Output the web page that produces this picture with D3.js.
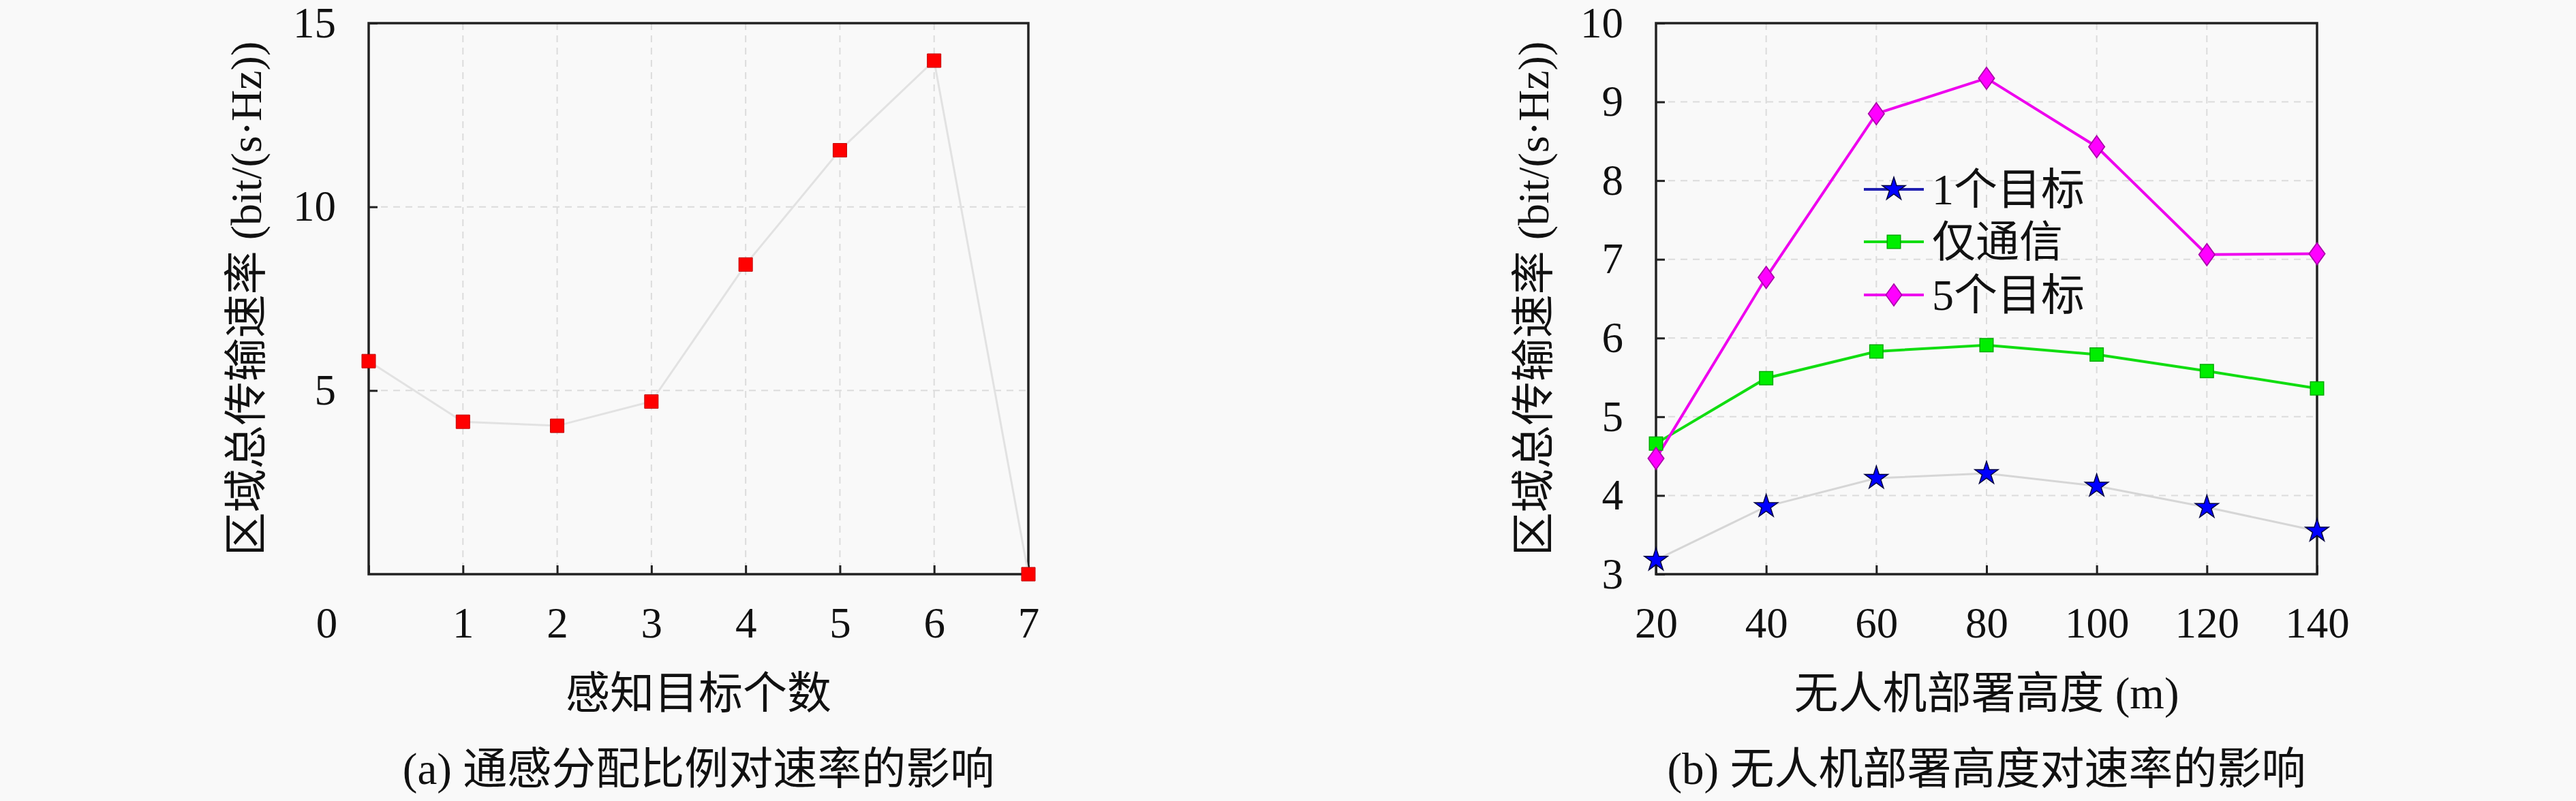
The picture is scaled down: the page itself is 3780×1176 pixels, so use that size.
<!DOCTYPE html>
<html>
<head>
<meta charset="utf-8">
<script src="https://cdn.jsdelivr.net/npm/d3@7"></script>
<style>
  body { margin: 0; background: #f9f9f9; }
  text { font-family: 'Liberation Serif', 'Noto Sans CJK SC', serif; fill: #111; }
</style>
</head>
<body>
<div id="container"></div>
<script>
// data (a)
const targetCounts = [0, 1, 2, 3, 4, 5, 6, 7];
const rateByTargets = [5.8, 4.15, 4.04, 4.7, 8.43, 11.54, 13.98, 0];
const ticksA_x = [0, 1, 2, 3, 4, 5, 6, 7];
const ticksA_y = [5, 10, 15];

// data (b)
const heights = [20, 40, 60, 80, 100, 120, 140];
const oneTarget = [3.18, 3.86, 4.22, 4.28, 4.12, 3.85, 3.55];
const commOnly = [4.66, 5.49, 5.83, 5.91, 5.79, 5.58, 5.36];
const fiveTargets = [4.47, 6.77, 8.85, 9.30, 8.43, 7.06, 7.07];
const seriesNames = ["1个目标", "仅通信", "5个目标"];
const ticksB_y = [3, 4, 5, 6, 7, 8, 9, 10];

const yLabel = "区域总传输速率 (bit/(s·Hz))";

const width = 3780, height = 1176;
const svg = d3.select("#container").append("svg")
  .attr("width", width).attr("height", height);

svg.append("rect").attr("width", width).attr("height", height).attr("fill", "#f9f9f9");

const plotTop = 34, plotBottom = 843;

function panel(xScale, yScale, xticks, yticks, xTitle, caption) {
  const [x0, x1] = xScale.range();
  const g = svg.append("g");

  // grid
  g.selectAll(".vgrid").data(xticks.slice(1, -1)).enter().append("line")
    .attr("x1", d => xScale(d)).attr("x2", d => xScale(d))
    .attr("y1", plotTop).attr("y2", plotBottom)
    .attr("stroke", "#dcdcdc").attr("stroke-width", 2).attr("stroke-dasharray", "10,8");
  const yd = yScale.domain();
  g.selectAll(".hgrid").data(yticks.filter(d => d > yd[0] && d < yd[1])).enter().append("line")
    .attr("x1", x0).attr("x2", x1)
    .attr("y1", d => yScale(d)).attr("y2", d => yScale(d))
    .attr("stroke", "#dcdcdc").attr("stroke-width", 2).attr("stroke-dasharray", "10,8");

  // axes
  const xa = g.append("g").attr("transform", `translate(0,${plotBottom})`)
    .call(d3.axisBottom(xScale).tickValues(xticks).tickFormat(d3.format("d"))
      .tickSizeInner(-13).tickSizeOuter(0).tickPadding(48));
  const ya = g.append("g").attr("transform", `translate(${x0},0)`)
    .call(d3.axisLeft(yScale).tickValues(yticks).tickFormat(d3.format("d"))
      .tickSizeInner(-13).tickSizeOuter(0).tickPadding(48));
  [xa, ya].forEach(a => {
    a.select(".domain").remove();
    a.selectAll(".tick line").attr("stroke", "#222").attr("stroke-width", 3);
    a.selectAll(".tick text").attr("font-family", null).style("font-size", "63px").attr("fill", "#111");
  });

  // box
  g.append("rect").attr("x", x0).attr("y", plotTop)
    .attr("width", x1 - x0).attr("height", plotBottom - plotTop)
    .attr("fill", "none").attr("stroke", "#222").attr("stroke-width", 3.5);

  // labels
  const cx = (x0 + x1) / 2;
  g.append("text").attr("x", cx).attr("y", 1017).attr("dy", "0.35em")
    .attr("text-anchor", "middle").style("font-size", "65px").text(xTitle);
  g.append("text").attr("x", cx).attr("y", 1128).attr("dy", "0.35em")
    .attr("text-anchor", "middle").style("font-size", "65px").text(caption);
  g.append("text")
    .attr("transform", `translate(${x0 - 180},${(plotTop + plotBottom) / 2}) rotate(-90)`)
    .attr("dy", "0.35em").attr("text-anchor", "middle")
    .style("font-size", "64px").text(yLabel);

  return {g, xa};
}

// ----- (a)
const xA = d3.scaleLinear().domain([0, 7]).range([541, 1509]);
const yA = d3.scaleLinear().domain([0, 15]).range([plotBottom, plotTop]);
const pa = panel(xA, yA, ticksA_x, ticksA_y, "感知目标个数", "(a) 通感分配比例对速率的影响");
pa.xa.selectAll(".tick").filter(d => d === 0).select("text").attr("x", -62);

const dataA = targetCounts.map((d, i) => ({x: d, y: rateByTargets[i]}));
pa.g.append("path").datum(dataA)
  .attr("d", d3.line().x(d => xA(d.x)).y(d => yA(d.y)))
  .attr("fill", "none").attr("stroke", "#e2e2e2").attr("stroke-width", 3);
pa.g.selectAll(".ptA").data(dataA).enter().append("path")
  .attr("transform", d => `translate(${xA(d.x)},${yA(d.y)})`)
  .attr("d", d3.symbol(d3.symbolSquare, 400))
  .attr("fill", "#ff0000").attr("stroke", "#c00000").attr("stroke-width", 1);

// ----- (b)
const xB = d3.scaleLinear().domain([20, 140]).range([2430, 3400]);
const yB = d3.scaleLinear().domain([3, 10]).range([plotBottom, plotTop]);
const pb = panel(xB, yB, heights, ticksB_y, "无人机部署高度 (m)", "(b) 无人机部署高度对速率的影响");

const series = [
  {name: seriesNames[0], values: oneTarget, line: "#d6d6d6", legendLine: "#2020b0", fill: "#0000ff", stroke: "#000040", sym: d3.symbolStar, size: 360, sx: 1},
  {name: seriesNames[1], values: commOnly, line: "#11dd11", legendLine: "#11dd11", fill: "#00ee00", stroke: "#00aa00", sym: d3.symbolSquare, size: 380, sx: 1},
  {name: seriesNames[2], values: fiveTargets, line: "#ee00ee", legendLine: "#ee00ee", fill: "#ff00ff", stroke: "#aa00aa", sym: d3.symbolDiamond, size: 300, sx: 1.25}
];

const lineB = d3.line().x((d, i) => xB(heights[i])).y(d => yB(d));
series.forEach(s => {
  pb.g.append("path").datum(s.values)
    .attr("d", lineB).attr("fill", "none")
    .attr("stroke", s.line).attr("stroke-width", s === series[0] ? 3 : 4);
});
series.forEach(s => {
  pb.g.selectAll(null).data(s.values).enter().append("path")
    .attr("transform", (d, i) => `translate(${xB(heights[i])},${yB(d)}) scale(${s.sx},1)`)
    .attr("d", d3.symbol(s.sym, s.size))
    .attr("fill", s.fill).attr("stroke", s.stroke).attr("stroke-width", 1.5);
});

// legend
const legend = pb.g.append("g");
const legendY = [278, 355, 433];
series.forEach((s, i) => {
  const row = legend.append("g").attr("transform", `translate(2735,${legendY[i]})`);
  row.append("line").attr("x1", 0).attr("x2", 88)
    .attr("stroke", s.legendLine).attr("stroke-width", 4);
  row.append("path").attr("transform", `translate(44,0) scale(${s.sx},1)`)
    .attr("d", d3.symbol(s.sym, s.size))
    .attr("fill", s.fill).attr("stroke", s.stroke).attr("stroke-width", 1.5);
  row.append("text").attr("x", 100).attr("dy", "0.35em")
    .style("font-size", "64px").text(s.name);
});
</script>
</body>
</html>
